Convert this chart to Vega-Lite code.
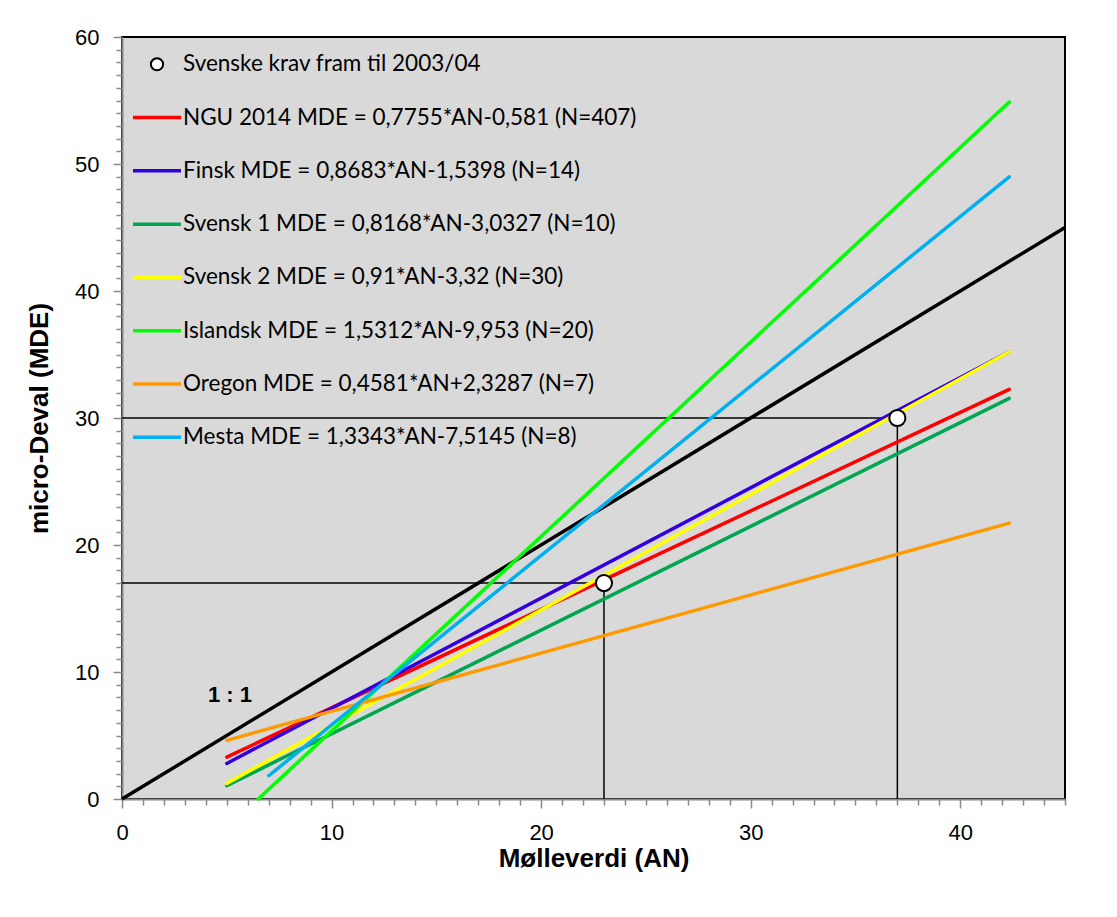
{
  "$schema": "https://vega.github.io/schema/vega-lite/v6.json",
  "width": 943,
  "height": 762,
  "autosize": "none",
  "padding": {"left": 122, "top": 37, "right": 52, "bottom": 118},
  "background": "white",
  "config": {
    "view": {"fill": "#d9d9d9", "stroke": "black", "strokeWidth": 2},
    "axis": {"labelFont": "Liberation Sans", "titleFont": "Liberation Sans", "labelColor": "black", "titleColor": "black"}
  },
  "resolve": {"axis": {"x": "independent", "y": "independent"}},
  "datasets": {
    "lines": [
      {"series": "NGU 2014 MDE = 0,7755*AN-0,581 (N=407)", "an": 5, "mde": 3.30},
      {"series": "NGU 2014 MDE = 0,7755*AN-0,581 (N=407)", "an": 42.34, "mde": 32.25},
      {"series": "Finsk MDE = 0,8683*AN-1,5398  (N=14)", "an": 5, "mde": 2.80},
      {"series": "Finsk MDE = 0,8683*AN-1,5398  (N=14)", "an": 42.34, "mde": 35.22},
      {"series": "Svensk 1 MDE = 0,8168*AN-3,0327  (N=10)", "an": 5, "mde": 1.05},
      {"series": "Svensk 1 MDE = 0,8168*AN-3,0327  (N=10)", "an": 42.34, "mde": 31.55},
      {"series": "Svensk 2 MDE = 0,91*AN-3,32 (N=30)", "an": 5, "mde": 1.23},
      {"series": "Svensk 2 MDE = 0,91*AN-3,32 (N=30)", "an": 42.34, "mde": 35.21},
      {"series": "Islandsk MDE = 1,5312*AN-9,953 (N=20)", "an": 6.5, "mde": 0.0},
      {"series": "Islandsk MDE = 1,5312*AN-9,953 (N=20)", "an": 42.34, "mde": 54.88},
      {"series": "Oregon MDE = 0,4581*AN+2,3287  (N=7)", "an": 5, "mde": 4.62},
      {"series": "Oregon MDE = 0,4581*AN+2,3287  (N=7)", "an": 42.34, "mde": 21.72},
      {"series": "Mesta MDE = 1,3343*AN-7,5145  (N=8)", "an": 7, "mde": 1.83},
      {"series": "Mesta MDE = 1,3343*AN-7,5145  (N=8)", "an": 42.34, "mde": 48.98}
    ],
    "points": [
      {"series": "Svenske krav  fram til 2003/04", "an": 23, "mde": 17},
      {"series": "Svenske krav  fram til 2003/04", "an": 37, "mde": 30}
    ],
    "guides": [
      {"x1": 0, "x2": 23, "y1": 17, "y2": 17},
      {"x1": 0, "x2": 37, "y1": 30, "y2": 30},
      {"x1": 23, "x2": 23, "y1": 0, "y2": 17},
      {"x1": 37, "x2": 37, "y1": 0, "y2": 30}
    ],
    "oneToOne": [
      {"an": 0, "mde": 0},
      {"an": 45, "mde": 45}
    ],
    "notes": [
      {"an": 4.1, "mde": 8.2, "text": "1 : 1"}
    ]
  },
  "layer": [
    {
      "data": {"name": "guides"},
      "mark": {"type": "rule", "color": "black", "strokeWidth": 1.5},
      "encoding": {
        "x": {"field": "x1", "type": "quantitative", "scale": {"domain": [0, 45], "nice": false},
          "axis": {
            "orient": "bottom",
            "values": [0, 10, 20, 30, 40],
            "tickSize": 9,
            "tickColor": "#888888", "tickWidth": 1.5,
            "domainColor": "#888888", "domainWidth": 2,
            "grid": false, "labelFontSize": 22, "labelPadding": 14,
            "labelFlush": false, "labelOverlap": false,
            "title": "Mølleverdi (AN)", "titleFontSize": 26, "titleFontWeight": "bold", "titlePadding": 2
          }},
        "x2": {"field": "x2"},
        "y": {"field": "y1", "type": "quantitative", "scale": {"domain": [0, 60], "nice": false},
          "axis": {
            "orient": "left",
            "values": [0, 10, 20, 30, 40, 50, 60],
            "tickSize": 9,
            "tickColor": "#888888", "tickWidth": 1.5,
            "domainColor": "#888888", "domainWidth": 2,
            "grid": false, "labelFontSize": 22, "labelPadding": 14,
            "labelFlush": false, "labelOverlap": false,
            "title": "micro-Deval (MDE)", "titleFontSize": 26, "titleFontWeight": "bold", "titlePadding": 22
          }},
        "y2": {"field": "y2"}
      }
    },
    {
      "data": {"name": "oneToOne"},
      "mark": {"type": "line", "color": "black", "strokeWidth": 3.5},
      "encoding": {
        "x": {"field": "an", "type": "quantitative",
          "axis": {
            "orient": "bottom",
            "values": [1,2,3,4,5,6,7,8,9,11,12,13,14,15,16,17,18,19,21,22,23,24,25,26,27,28,29,31,32,33,34,35,36,37,38,39,41,42,43,44,45],
            "labels": false, "domain": false, "grid": false, "title": null,
            "tickSize": 6, "tickColor": "#888888", "tickWidth": 1.5
          }},
        "y": {"field": "mde", "type": "quantitative",
          "axis": {
            "orient": "left",
            "values": [1,2,3,4,5,6,7,8,9,11,12,13,14,15,16,17,18,19,21,22,23,24,25,26,27,28,29,31,32,33,34,35,36,37,38,39,41,42,43,44,45,46,47,48,49,51,52,53,54,55,56,57,58,59],
            "labels": false, "domain": false, "grid": false, "title": null,
            "tickSize": 6, "tickColor": "#888888", "tickWidth": 1.5
          }}
      }
    },
    {
      "data": {"name": "lines"},
      "mark": {"type": "line", "strokeWidth": 3.5, "strokeCap": "round"},
      "encoding": {
        "x": {"field": "an", "type": "quantitative", "axis": null},
        "y": {"field": "mde", "type": "quantitative", "axis": null},
        "color": {
          "field": "series", "type": "nominal", "sort": null,
          "scale": {
            "domain": [
              "Svenske krav  fram til 2003/04",
              "NGU 2014 MDE = 0,7755*AN-0,581 (N=407)",
              "Finsk MDE = 0,8683*AN-1,5398  (N=14)",
              "Svensk 1 MDE = 0,8168*AN-3,0327  (N=10)",
              "Svensk 2 MDE = 0,91*AN-3,32 (N=30)",
              "Islandsk MDE = 1,5312*AN-9,953 (N=20)",
              "Oregon MDE = 0,4581*AN+2,3287  (N=7)",
              "Mesta MDE = 1,3343*AN-7,5145  (N=8)"
            ],
            "range": ["#000000", "#ff0000", "#3300dd", "#00a651", "#ffff00", "#00ff00", "#ff9900", "#00b0f0"]
          },
          "legend": {
            "title": null,
            "orient": "none",
            "legendX": 11,
            "legendY": 16,
            "padding": 0,
            "labelFont": "Lato",
            "labelFontSize": 22.5,
            "labelColor": "black",
            "labelLimit": 700,
            "labelOffset": 4,
            "symbolSize": 2304,
            "symbolType": "stroke",
            "rowPadding": 30.3,
            "encode": {
              "symbols": {
                "update": {
                  "x": {"value": 24},
                  "shape": {"signal": "datum.value === 'Svenske krav  fram til 2003/04' ? 'circle' : 'stroke'"},
                  "size": {"signal": "datum.value === 'Svenske krav  fram til 2003/04' ? 150 : 2304"},
                  "strokeWidth": {"signal": "datum.value === 'Svenske krav  fram til 2003/04' ? 2 : 3.5"},
                  "fill": {"signal": "datum.value === 'Svenske krav  fram til 2003/04' ? 'white' : 'transparent'"},
                  "stroke": {"scale": "color", "field": "value"},
                  "opacity": {"value": 1}
                }
              },
              "labels": {
                "update": {
                  "x": {"value": 50}
                }
              }
            }
          }
        }
      }
    },
    {
      "data": {"name": "points"},
      "mark": {"type": "point", "filled": false, "fill": "white", "fillOpacity": 1, "opacity": 1, "strokeWidth": 2, "size": 260, "shape": "circle"},
      "encoding": {
        "x": {"field": "an", "type": "quantitative", "axis": null},
        "y": {"field": "mde", "type": "quantitative", "axis": null},
        "color": {"field": "series", "type": "nominal", "sort": null}
      }
    },
    {
      "data": {"name": "notes"},
      "mark": {"type": "text", "font": "Liberation Sans", "fontSize": 22, "fontWeight": "bold", "align": "left", "baseline": "middle", "color": "black"},
      "encoding": {
        "x": {"field": "an", "type": "quantitative", "axis": null},
        "y": {"field": "mde", "type": "quantitative", "axis": null},
        "text": {"field": "text"}
      }
    }
  ]
}
